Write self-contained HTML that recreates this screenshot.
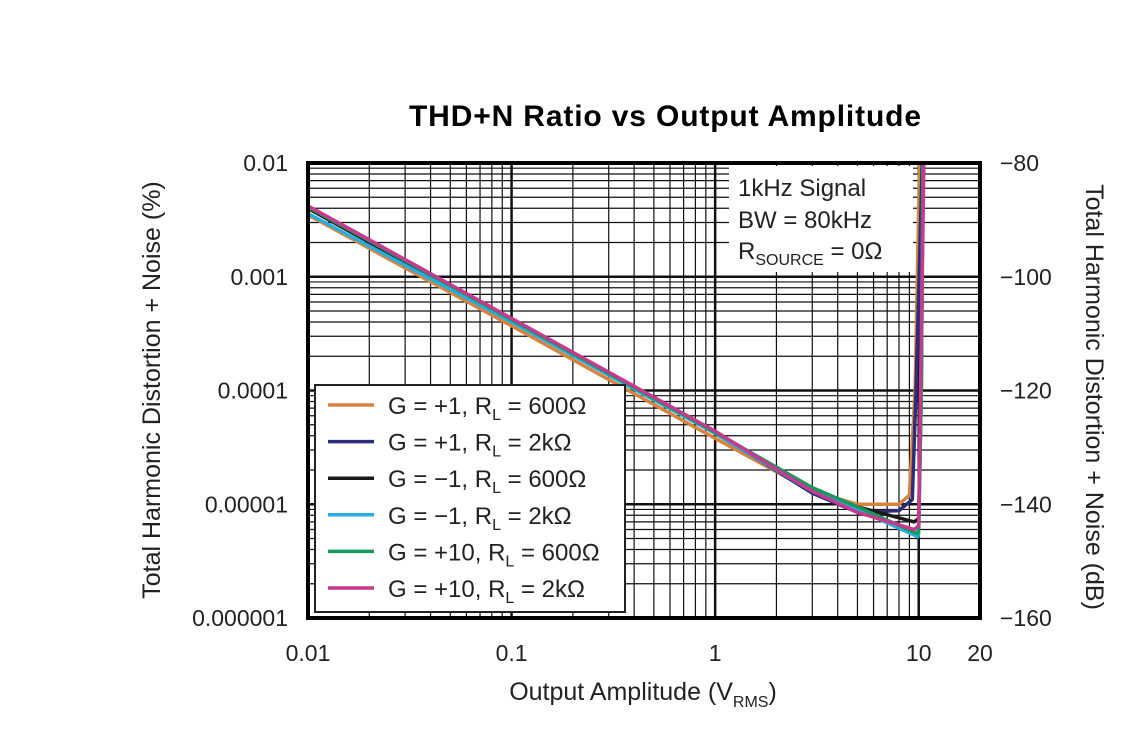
<!DOCTYPE html>
<html><head><meta charset="utf-8"><style>
body{margin:0;background:#fff;width:1140px;height:750px;overflow:hidden;font-family:"Liberation Sans",sans-serif}
</style></head><body>
<svg width="1140" height="750" xmlns="http://www.w3.org/2000/svg" font-family="Liberation Sans, sans-serif">
<text x="665" y="126" font-size="30" font-weight="bold" text-anchor="middle" textLength="512">THD+N Ratio vs Output Amplitude</text>
<g id="grid"></g>
<g id="series"></g>
<rect x="308" y="163" width="672" height="455" fill="none" stroke="#000" stroke-width="4"/>
<g id="ticks" font-size="23" fill="#222"></g>
<text transform="translate(160,390) rotate(-90)" font-size="25" text-anchor="middle" fill="#222">Total Harmonic Distortion + Noise (%)</text>
<text transform="translate(1086,397) rotate(90)" font-size="25" text-anchor="middle" fill="#222">Total Harmonic Distortion + Noise (dB)</text>
<text x="643" y="700" font-size="25" text-anchor="middle" fill="#222">Output Amplitude (V<tspan font-size="16" dy="7">RMS</tspan><tspan dy="-7">)</tspan></text>
<g>
<rect x="729" y="166" width="184" height="106" fill="#fff"/>
<text x="738" y="196" font-size="24" fill="#222">1kHz Signal</text>
<text x="738" y="228" font-size="24" fill="#222">BW = 80kHz</text>
<text x="738" y="259" font-size="24" fill="#222">R<tspan font-size="16" dy="6">SOURCE</tspan><tspan dy="-6"> = 0Ω</tspan></text>
</g>
<g id="legend">
<rect x="315" y="385" width="310" height="227" fill="#fff" stroke="#222" stroke-width="2"/>
</g>
</svg>
<script>
const xTicks=[0.01,0.1,1,10,20];
const xTickLabels=["0.01","0.1","1","10","20"];
const yTicks=[0.01,0.001,0.0001,0.00001,0.000001];
const yTickLabels=["0.01","0.001","0.0001","0.00001","0.000001"];
const dbTickLabels=["−80","−100","−120","−140","−160"];
const seriesNames=["G = +1, R|L| = 600Ω","G = +1, R|L| = 2kΩ","G = −1, R|L| = 600Ω","G = −1, R|L| = 2kΩ","G = +10, R|L| = 600Ω","G = +10, R|L| = 2kΩ"];
const seriesColors=["#d9823d","#2b2d7a","#1a1a1a","#27aee0","#16995a","#c7388f"];
const xOrange=[0.01,0.1,1,3,5,8,9,9.6,10.1];
const yOrange=[3.5e-3,3.7e-4,3.8e-5,1.3e-5,1.0e-5,1.0e-5,1.2e-5,1e-4,1e-2];
const xNavy=[0.01,0.1,1,3,5,8,9.3,9.7,10.4];
const yNavy=[4.1e-3,4.2e-4,4.3e-5,1.25e-5,8.5e-6,8.8e-6,1.1e-5,1e-4,1e-2];
const xBlack=[0.01,0.1,1,3,5,9.5,10,10.3,10.5];
const yBlack=[4.0e-3,4.1e-4,4.2e-5,1.3e-5,9.5e-6,7e-6,7.5e-6,1e-4,1e-2];
const xCyan=[0.01,0.1,1,3,5,9.9,10,10.3,10.5];
const yCyan=[3.6e-3,4.0e-4,4.2e-5,1.3e-5,9e-6,5.2e-6,5.5e-6,1e-4,1e-2];
const xGreen=[0.01,0.1,1,3,5,9.9,10,10.3,10.5];
const yGreen=[4.1e-3,4.2e-4,4.3e-5,1.4e-5,9.5e-6,5.5e-6,6e-6,1e-4,1e-2];
const xMagenta=[0.01,0.1,1,3,5,9.5,10,10.2,10.6];
const yMagenta=[4.2e-3,4.3e-4,4.4e-5,1.3e-5,8.5e-6,6e-6,6.5e-6,1e-4,1e-2];
const allX=[xOrange,xNavy,xBlack,xCyan,xGreen,xMagenta];
const allY=[yOrange,yNavy,yBlack,yCyan,yGreen,yMagenta];

const X0=308,X1=980,Y0=163,Y1=618;
const lx0=Math.log10(0.01),lx1=Math.log10(20),ly0=-2,ly1=-6;
function sx(v){return X0+(Math.log10(v)-lx0)/(lx1-lx0)*(X1-X0);}
function sy(v){return Y0+(Math.log10(v)-ly0)/(ly1-ly0)*(Y1-Y0);}
const NS="http://www.w3.org/2000/svg";
function mk(tag,parent){const e=document.createElementNS(NS,tag);parent.appendChild(e);return e;}
const grid=document.getElementById('grid');
function line(x1,y1,x2,y2,w){const l=mk('line',grid);l.setAttribute('x1',x1);l.setAttribute('y1',y1);l.setAttribute('x2',x2);l.setAttribute('y2',y2);l.setAttribute('stroke','#111');l.setAttribute('stroke-width',w);

}
for(let d=-2;d<=0;d++)for(let m=1;m<=9;m++){const v=m*Math.pow(10,d);const x=sx(v);line(x,Y0,x,Y1,m==1?2.5:1.2);}
line(sx(10),Y0,sx(10),Y1,2.5);
for(let d=-6;d<=-3;d++)for(let m=1;m<=9;m++){const v=m*Math.pow(10,d);const y=sy(v);line(X0,y,X1,y,m==1?2.5:1.2);}
const ticks=document.getElementById('ticks');
xTicks.forEach((v,i)=>{const t=mk('text',ticks);t.setAttribute('x',sx(v));t.setAttribute('y',661);t.setAttribute('text-anchor','middle');t.textContent=xTickLabels[i];

});
yTicks.forEach((v,i)=>{const t=mk('text',ticks);t.setAttribute('x',288);t.setAttribute('y',sy(v)+8);t.setAttribute('text-anchor','end');t.textContent=yTickLabels[i];


const t2=mk('text',ticks);t2.setAttribute('x',1000);t2.setAttribute('y',sy(v)+8);t2.textContent=dbTickLabels[i];

});
const sg=document.getElementById('series');
allX.forEach((xs,i)=>{const p=mk('polyline',sg);p.setAttribute('points',xs.map((x,j)=>sx(x).toFixed(1)+','+sy(allY[i][j]).toFixed(1)).join(' '));p.setAttribute('fill','none');p.setAttribute('stroke',seriesColors[i]);p.setAttribute('stroke-width',3.5);p.setAttribute('stroke-linejoin','round');

});
const lg=document.getElementById('legend');
seriesNames.forEach((n,i)=>{const y=405+i*36.6;const l=mk('line',lg);l.setAttribute('x1',328);l.setAttribute('x2',374);l.setAttribute('y1',y);l.setAttribute('y2',y);l.setAttribute('stroke',seriesColors[i]);l.setAttribute('stroke-width',3.5);


const parts=n.split('|');const t=mk('text',lg);t.setAttribute('x',388);t.setAttribute('y',y+9);t.setAttribute('font-size',24);t.setAttribute('fill','#222');


const a=mk('tspan',t);a.textContent=parts[0];const b=mk('tspan',t);b.setAttribute('font-size',16);b.setAttribute('dy',6);b.textContent=parts[1];const c=mk('tspan',t);c.setAttribute('dy',-6);c.textContent=parts[2];});
</script>
</body></html>
